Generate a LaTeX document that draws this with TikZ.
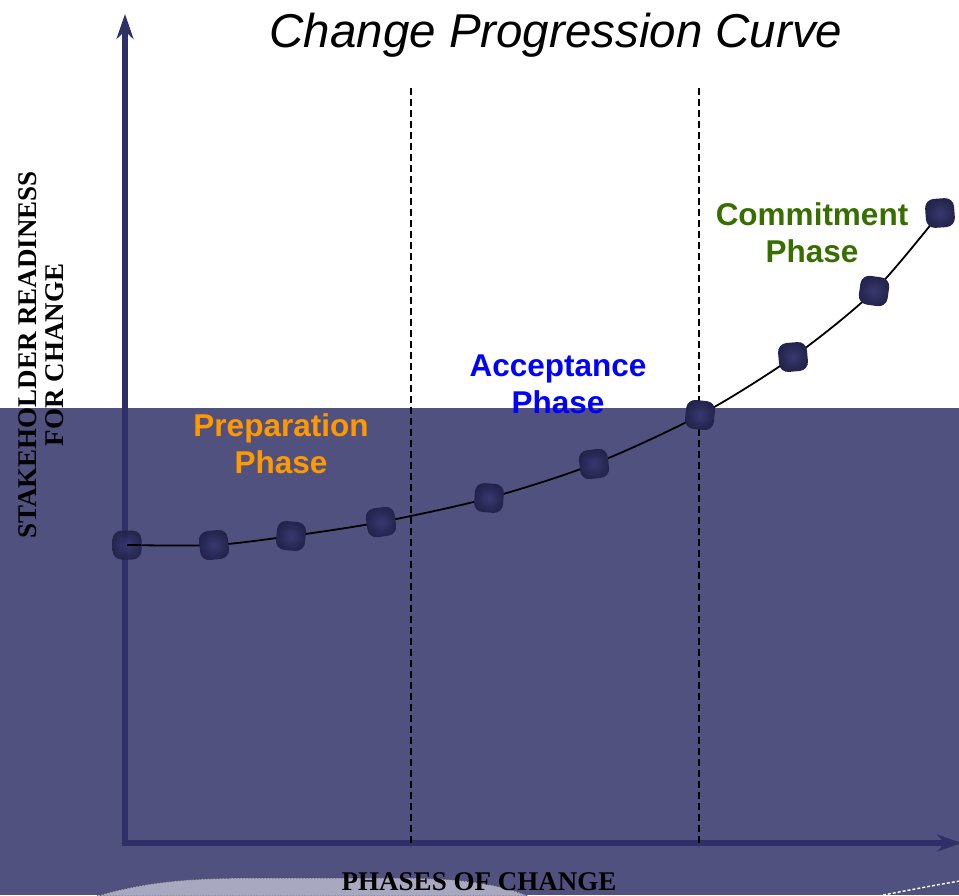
\documentclass[tikz,border=0pt]{standalone}
\usepackage{fontspec}
\setmainfont{Liberation Serif}
\newfontfamily\arialfont{Liberation Sans}
\usetikzlibrary{arrows.meta,positioning,shapes}
\definecolor{panelblue}{RGB}{81,81,128}
\definecolor{axisblue}{RGB}{48,48,104}
\definecolor{pointdark}{RGB}{34,34,74}
\definecolor{pointlight}{RGB}{56,56,112}
\definecolor{hillgray}{RGB}{168,168,193}
\definecolor{prepcolor}{RGB}{255,153,0}
\definecolor{acceptcolor}{RGB}{0,0,255}
\definecolor{commitcolor}{RGB}{56,110,0}
\tikzset{
    %Define style for the phase labels
    phasenode/.style={
             align=center,
             inner sep=0pt,
             font=\arialfont\bfseries\fontsize{31.5}{37}\selectfont},
    %Define style for the axis titles
    axisnode/.style={
             align=center,
             inner sep=0pt,
             font=\bfseries\fontsize{27}{27}\selectfont},
    %Define style for the points on the curve
    pointnode/.style={
             rectangle,
             rounded corners=9pt,
             minimum size=29pt,
             inner sep=0pt,
             shading=radial,
             inner color=pointlight,
             outer color=pointdark},
    % Define arrow style
    axisarrow/.style={
            -{Stealth[length=25pt,width=17pt]},
            axisblue,
            line width=6pt},
    phaseline/.style={
            black,
            line width=1.2pt,
            dash pattern=on 7pt off 4pt},
    curvearrow/.style={
            black,
            line width=1.8pt}
}
\begin{document}
\begin{tikzpicture}[x=1pt, y=-1pt]
 \useasboundingbox (0,0) rectangle (959,895);
 % lower panel
 \fill[panelblue] (0,408) rectangle (959,895);
 \fill[hillgray, draw=black!70, dotted, line width=1pt]
      (97,896) .. controls (150,880) and (200,878) .. (260,878)
      -- (400,878) .. controls (460,878) and (500,884) .. (528,896) -- cycle;
 \draw[white, densely dashed, line width=1.4pt]
      (878,896) .. controls (910,890) and (935,885) .. (960,881);
 % title
 \node[font=\arialfont\itshape\fontsize{47.5}{50}\selectfont, anchor=base] (title) at (556,47) {Change Progression Curve};
 % axes
 \coordinate (origin) at (125,843);
 \coordinate (ytip) at (125,14);
 \coordinate (xtip) at (962,843);
 \draw[axisarrow] ([yshift=-3pt]origin) -- (ytip);
 \draw[axisarrow] ([xshift=-3pt]origin) -- (xtip);
 % phase borders
 \coordinate (b1top) at (411,88);
 \coordinate (b1bot) at (411,847);
 \coordinate (b2top) at (699,88);
 \coordinate (b2bot) at (699,847);
 \draw[phaseline] (b1top) -- (b1bot);
 \draw[phaseline] (b2top) -- (b2bot);
 % curve
 \coordinate (c1) at (127,545);
 \coordinate (c2) at (214,545);
 \coordinate (c3) at (291,536);
 \coordinate (c4) at (381,522);
 \coordinate (c5) at (489,498);
 \coordinate (c6) at (594,464);
 \coordinate (c7) at (700,415);
 \coordinate (c8) at (793,357);
 \coordinate (c9) at (874,291);
 \coordinate (c10) at (940,213);
 \draw[curvearrow] plot[smooth, tension=0.5] coordinates {(c1) (c2) (c3) (c4) (c5) (c6) (c7) (c8) (c9) (c10)};
 \node[pointnode, rotate=6] (p2) at (c2) {};
 \node[pointnode, rotate=-5] (p3) at (c3) {};
 \node[pointnode, rotate=8] (p4) at (c4) {};
 \node[pointnode, rotate=-4] (p5) at (c5) {};
 \node[pointnode, rotate=7] (p6) at (c6) {};
 \node[pointnode, rotate=-6] (p7) at (c7) {};
 \node[pointnode, rotate=5] (p8) at (c8) {};
 \node[pointnode, rotate=-8] (p9) at (c9) {};
 \node[pointnode, rotate=4] (p10) at (c10) {};
 \node[pointnode, opacity=0.9] (p1) at (c1) {};
 \draw[curvearrow] (p1.center) -- ([xshift=14pt]p1.center);
 % phase labels
 \node[phasenode, text=prepcolor] (prep) at (281,444) {Preparation\\Phase};
 \node[phasenode, text=acceptcolor] (accept) at (558,384) {Acceptance\\Phase};
 \node[phasenode, text=commitcolor] (commit) at (812,233) {Commitment\\Phase};
 % axis titles
 \node[axisnode, rotate=90] (ylabel) at (41,355) {STAKEHOLDER READINESS\\FOR CHANGE};
 \node[axisnode, anchor=base] (xlabel) at (479,890) {PHASES OF CHANGE};
\end{tikzpicture}
\end{document}
